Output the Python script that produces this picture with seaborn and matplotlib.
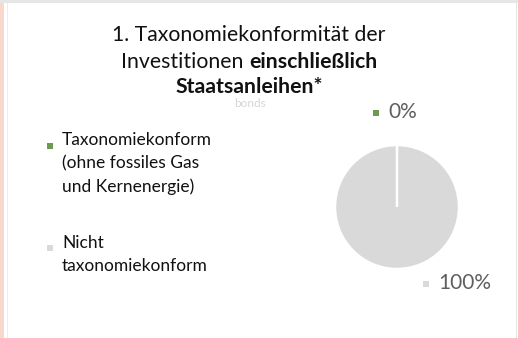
import matplotlib
matplotlib.use("Agg")
import matplotlib.pyplot as plt
from matplotlib.patches import Rectangle
import seaborn as sns

# Data
categories = ["Taxonomiekonform\n(ohne fossiles Gas\nund Kernenergie)",
              "Nicht\ntaxonomiekonform"]
shares = [0, 100]
colors = sns.color_palette(["#6B9A50", "#D9D9D9"])

title_lines = [("1. Taxonomiekonformität der", ""),
               ("Investitionen ", "einschließlich"),
               ("", "Staatsanleihen*")]

sns.set_theme(style="white")
plt.rcParams["font.family"] = ["Lato", "DejaVu Sans"]

W, H = 518, 338
fig = plt.figure(figsize=(W / 100, H / 100), dpi=100)
fig.patch.set_facecolor("white")


def fx(px):
    return px / W


def fy(py):
    # pixel rows counted from the top
    return 1 - py / H


# Frame lines around the panel
fig.patches.append(Rectangle((0, 0), fx(4), 1, transform=fig.transFigure,
                             facecolor="#F7D8CB", edgecolor="none", zorder=0))
fig.patches.append(Rectangle((fx(7), 0), fx(1.2), 1, transform=fig.transFigure,
                             facecolor="#ECECEC", edgecolor="none", zorder=0))
fig.patches.append(Rectangle((0, fy(2.5)), 1, 2.5 / H, transform=fig.transFigure,
                             facecolor="#E6E6E6", edgecolor="none", zorder=0))
fig.patches.append(Rectangle((fx(515.5), 0), fx(1.5), 1, transform=fig.transFigure,
                             facecolor="#E4E4E4", edgecolor="none", zorder=0))

# Faint leftover caption below the title
fig.text(fx(250), fy(103.5), "bonds", ha="center", va="center", fontsize=8.5,
         color="#D6D6D6", zorder=1)

# Title with bold parts
renderer = fig.canvas.get_renderer()
title_cx = 249
title_ys = [35, 62, 87]
for (normal, bold), ty in zip(title_lines, title_ys):
    parts = [(normal, "normal"), (bold, "bold")]
    texts = []
    for s, w in parts:
        if s:
            t = fig.text(0, fy(ty), s, fontsize=15.3, fontweight=w,
                         va="center", ha="left", color="#111111", zorder=3)
            texts.append(t)
    widths = [t.get_window_extent(renderer).width for t in texts]
    x = title_cx - sum(widths) / 2
    for t, w in zip(texts, widths):
        t.set_x(fx(x))
        x += w

# Pie chart
cx, cy, r = 397, 207, 62
ax = fig.add_axes([fx(cx - r), fy(cy + r), fx(2 * r), 2 * r / H])
wedges, _ = ax.pie(shares, colors=colors, startangle=90, counterclock=False,
                   wedgeprops=dict(edgecolor="white", linewidth=1.8))
# the empty slice only shows as its white border, keep it on top
for wdg, v in zip(wedges, shares):
    if v == 0:
        wdg.set_zorder(5)
ax.set_xlim(-1, 1)
ax.set_ylim(-1, 1)
ax.set_axis_off()

# Data labels with legend keys
label_pos = [(388, 112), (438, 283)]
for v, col, (lx, ly) in zip(shares, colors, label_pos):
    fig.text(fx(lx), fy(ly), f"{v:.0f}%", fontsize=15, fontweight="normal",
             color="#5F5F5F", va="center", ha="left")
    fig.patches.append(Rectangle((fx(lx - 15), fy(ly + 3.5)), fx(6), 6 / H,
                                 transform=fig.transFigure, facecolor=col,
                                 edgecolor="none"))

# Legend
legend_pos = [(62, 140), (62, 243)]
key_y = [146, 248]
for cat, col, (lx, ly), ky in zip(categories, colors, legend_pos, key_y):
    fig.text(fx(lx), fy(ly - 8), cat, fontsize=12.5, color="#111111",
             va="top", ha="left", linespacing=1.55)
    fig.patches.append(Rectangle((fx(47), fy(ky + 3)), fx(6), 6 / H,
                                 transform=fig.transFigure, facecolor=col,
                                 edgecolor="none"))

fig.savefig("out.png", dpi=100, facecolor="white")
